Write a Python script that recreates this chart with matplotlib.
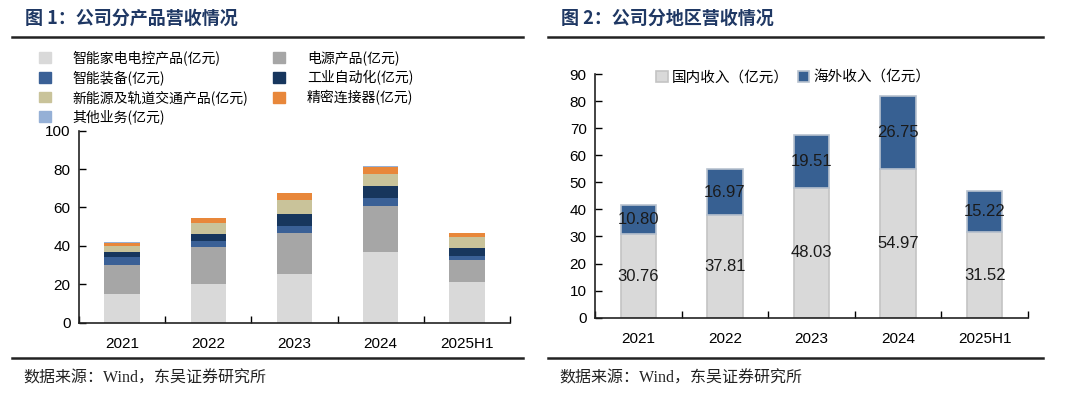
import matplotlib
matplotlib.use("Agg")
import matplotlib.pyplot as plt
import numpy as np
from matplotlib.lines import Line2D
from matplotlib.patches import Patch

plt.rcParams['font.family'] = ['Liberation Sans', 'Noto Sans CJK SC']

# 数据
years = ["2021", "2022", "2023", "2024", "2025H1"]

# 图1 分产品营收(亿元)
home_ctrl = [15.1, 20.1, 25.5, 37.0, 21.0]      # 智能家电电控产品
power = [15.1, 19.1, 21.4, 23.6, 11.5]          # 电源产品
smart_equip = [4.0, 3.2, 3.4, 4.5, 2.4]         # 智能装备
automation = [2.6, 3.6, 6.1, 6.3, 4.0]          # 工业自动化
new_energy = [3.0, 5.7, 7.5, 5.9, 5.5]          # 新能源及轨道交通产品
connector = [1.7, 2.8, 3.6, 4.0, 2.1]           # 精密连接器
other = [0.5, 0.2, 0.2, 0.4, 0.2]               # 其他业务

# 图2 分地区营收(亿元)
domestic = [30.76, 37.81, 48.03, 54.97, 31.52]
overseas = [10.80, 16.97, 19.51, 26.75, 15.22]

W, H = 1080, 399
fig = plt.figure(figsize=(W / 100, H / 100), dpi=100)

title_color = "#1f3864"
cjk = ['Noto Sans CJK SC', 'DejaVu Sans']
serif_cjk = ['Liberation Serif', 'Noto Sans CJK SC']


def fx(px):
    return px / W


def fy(py):
    return 1 - py / H


# 标题、分隔线、数据来源
for x0, x1, title in [(12, 523, "图 1：公司分产品营收情况"), (548, 1043, "图 2：公司分地区营收情况")]:
    fig.text(fx(x0 + 13), fy(18), title, fontsize=13, fontweight="bold", color=title_color,
             family=cjk, va="center", ha="left")
    fig.add_artist(Line2D([fx(x0), fx(x1)], [fy(37), fy(37)], color="#222222", lw=1.8))
    fig.add_artist(Line2D([fx(x0), fx(x1)], [fy(358), fy(358)], color="#222222", lw=1.8))
    fig.text(fx(x0 + 11), fy(379), "数据来源：Wind，东吴证券研究所", fontsize=11.5,
             family=serif_cjk, va="center", ha="left", color="#222222")


def style_axes(ax, ymax, ystep):
    x = np.arange(len(years))
    ax.set_xlim(-0.5, len(years) - 0.5)
    ax.set_ylim(0, ymax)
    ax.set_yticks(np.arange(0, ymax + 1, ystep))
    ax.set_xticks(np.arange(-0.5, len(years)), labels=[""] * (len(years) + 1))
    ax.set_xticks(x, labels=years, minor=True)
    ax.tick_params(axis="x", which="major", direction="in", length=5, width=1)
    ax.tick_params(axis="x", which="minor", length=0, pad=10, labelsize=11)
    ax.tick_params(axis="y", direction="in", length=5, width=1, labelsize=11, pad=6)
    for s in ["top", "right"]:
        ax.spines[s].set_visible(False)
    for s in ["left", "bottom"]:
        ax.spines[s].set_linewidth(1.2)
        ax.spines[s].set_color("#222222")


# 图1
ax1 = fig.add_axes([fx(79), fy(322.7), fx(431), (322.7 - 130.6) / H])
x = np.arange(len(years))
series1 = [
    ("智能家电电控产品(亿元)", home_ctrl, "#d9d9d9"),
    ("电源产品(亿元)", power, "#a6a6a6"),
    ("智能装备(亿元)", smart_equip, "#3a6096"),
    ("工业自动化(亿元)", automation, "#17365d"),
    ("新能源及轨道交通产品(亿元)", new_energy, "#c9c39a"),
    ("精密连接器(亿元)", connector, "#e8873a"),
    ("其他业务(亿元)", other, "#95b0d6"),
]
bottom = np.zeros(len(years))
for name, vals, col in series1:
    ax1.bar(x, vals, 0.41, bottom=bottom, color=col, edgecolor="none")
    bottom += np.array(vals)
style_axes(ax1, 100, 20)

order = [0, 2, 4, 6, 1, 3, 5]
leg1 = fig.legend([Patch(color=series1[i][2]) for i in order],
                  [series1[i][0] for i in order],
                  ncol=2, loc="upper left", bbox_to_anchor=(fx(38), fy(49)),
                  frameon=True, facecolor="white", edgecolor="none", framealpha=1,
                  prop={'family': cjk, 'size': 10}, handlelength=0.8, handleheight=0.8,
                  handletextpad=1.6, columnspacing=1.8, labelspacing=0.35,
                  borderpad=0.1, borderaxespad=0)

# 图2
ax2 = fig.add_axes([fx(595), fy(317.7), fx(433), (317.7 - 74) / H])
b1 = ax2.bar(x, domestic, 0.41, color="#d9d9d9", edgecolor="#c4c4c4", lw=1.2,
             label="国内收入（亿元）")
b2 = ax2.bar(x, overseas, 0.41, bottom=domestic, color="#376092", edgecolor="#b8c2cf", lw=1.2,
             label="海外收入（亿元）")
ax2.bar_label(b1, labels=[f"{v:.2f}" for v in domestic], label_type="center", fontsize=12,
              color="#1a1a1a")
ax2.bar_label(b2, labels=[f"{v:.2f}" for v in overseas], label_type="center", fontsize=12,
              color="#1a1a1a")
style_axes(ax2, 90, 10)
ax2.legend(loc="upper left", bbox_to_anchor=(fx(650 - 595) / fx(433), 1.04), ncol=2,
           frameon=False, prop={'family': cjk, 'size': 10.5}, handlelength=0.8,
           handleheight=0.8, handletextpad=0.3, columnspacing=0.6, borderaxespad=0)

fig.savefig("out.png", dpi=100)
